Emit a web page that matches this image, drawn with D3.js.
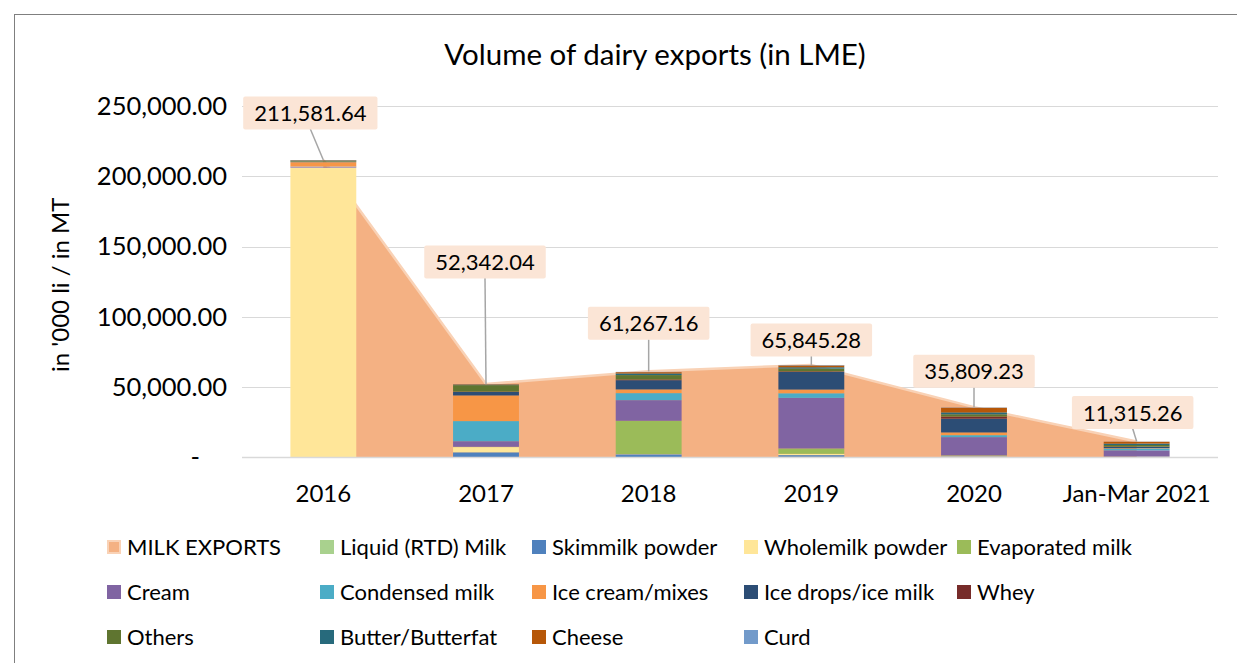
<!DOCTYPE html>
<html>
<head>
<meta charset="utf-8">
<script src="https://cdn.jsdelivr.net/npm/d3@7"></script>
<style>
  html, body { margin: 0; padding: 0; background: #fff; }
  svg { display: block; font-family: Lato, "Open Sans", sans-serif; }
</style>
</head>
<body>
<svg id="chart" width="1237" height="663"></svg>
<script>
// ---- data ----
const categories = ["2016", "2017", "2018", "2019", "2020", "Jan-Mar 2021"];
const milkExports = [211581.64, 52342.04, 61267.16, 65845.28, 35809.23, 11315.26];

const liquidMilk      = [0,      300,   200,   500,   300,   100];
const skimmilkPowder  = [300,    3400,  2100,  1200,  500,   200];
const wholemilkPowder = [205900, 3700,  200,   900,   300,   100];
const evaporatedMilk  = [0,      200,   23600, 3800,  400,   200];
const cream           = [600,    4000,  14700, 36000, 13000, 4500];
const condensedMilk   = [150,    14300, 5000,  3300,  1400,  1200];
const iceCream        = [3100,   18200, 2600,  2600,  1900,  300];
const iceDrops        = [300,    2500,  6600,  12600, 9900,  900];
const whey            = [80,     250,   500,   400,   1400,  200];
const others          = [500,    4600,  3100,  1900,  1600,  1200];
const butter          = [350,    400,   1200,  1000,  1400,  1000];
const cheese          = [250,    300,   900,   1300,  3300,  1300];
const curd            = [50,     100,   200,   300,   200,   100];

const yTicks = [0, 50000, 100000, 150000, 200000, 250000];
const yTickLabels = ["-", "50,000.00", "100,000.00", "150,000.00", "200,000.00", "250,000.00"];

// product series, bottom of the stack first
const series = [
  { key: "Liquid (RTD) Milk",  values: liquidMilk,      color: "#A9D18E" },
  { key: "Skimmilk powder",    values: skimmilkPowder,  color: "#4F81BD" },
  { key: "Wholemilk powder",   values: wholemilkPowder, color: "#FFE699" },
  { key: "Evaporated milk",    values: evaporatedMilk,  color: "#9BBB59" },
  { key: "Cream",              values: cream,           color: "#8064A2" },
  { key: "Condensed milk",     values: condensedMilk,   color: "#4BACC6" },
  { key: "Ice cream/mixes",    values: iceCream,        color: "#F79646" },
  { key: "Ice drops/ice milk", values: iceDrops,        color: "#2C4D75" },
  { key: "Whey",               values: whey,            color: "#772C2A" },
  { key: "Others",             values: others,          color: "#5F7530" },
  { key: "Butter/Butterfat",   values: butter,          color: "#276A7C" },
  { key: "Cheese",             values: cheese,          color: "#B65708" },
  { key: "Curd",               values: curd,            color: "#729ACA" }
];
const areaFill = "#F4B183";
const areaEdge = "#F9D2B6";

// ---- layout ----
const plot = { left: 242, right: 1218, top: 106, bottom: 457.5 };
const labelShift = [-13, -1, 0, 0, 0, -4];     // horizontal nudge of value callouts
const labelRise  = [47, 122, 48, 25, 36, 29];  // callout centre height above the point
const legendCols = [107, 320, 532, 744, 957];
const legendRows = [547, 592, 637];

const svg = d3.select("#chart");

svg.append("rect")
  .attr("x", 14.5).attr("y", 14.5)
  .attr("width", 1240).attr("height", 660)
  .attr("fill", "#fff").attr("stroke", "#7F7F7F").attr("stroke-width", 1);

const x = d3.scaleBand().domain(categories).range([plot.left, plot.right]).paddingInner(0.595).paddingOuter(0.2975);
const xc = c => x(c) + x.bandwidth() / 2;
const y = d3.scaleLinear().domain([0, 250000]).range([plot.bottom, plot.top]);

// title
svg.append("text")
  .attr("x", 655).attr("y", 65)
  .attr("text-anchor", "middle")
  .attr("font-size", 29.5)
  .attr("fill", "#000")
  .text("Volume of dairy exports (in LME)");

// gridlines
const grid = svg.append("g");
grid.selectAll("line").data(yTicks.filter(v => v > 0)).join("line")
  .attr("x1", plot.left).attr("x2", plot.right)
  .attr("y1", d => Math.round(y(d)) + 0.5).attr("y2", d => Math.round(y(d)) + 0.5)
  .attr("stroke", "#D9D9D9").attr("stroke-width", 1);

// y axis labels
const yAxis = d3.axisLeft(y).tickValues(yTicks)
  .tickFormat((d, i) => yTickLabels[i]).tickSize(0).tickPadding(0);
const yg = svg.append("g").attr("transform", `translate(227,0)`).call(yAxis);
yg.select(".domain").remove();
yg.selectAll("text").attr("font-size", 25.5).attr("fill", "#000").attr("font-family", "Lato");
yg.selectAll(".tick").filter(d => d === 0).select("text").attr("x", -27);

// y axis title
svg.append("text")
  .attr("transform", `translate(69,${(plot.top + plot.bottom) / 2 + 3}) rotate(-90)`)
  .attr("text-anchor", "middle")
  .attr("font-size", 24)
  .attr("fill", "#000")
  .text("in '000 li / in MT");

// milk exports area behind the bars
const areaData = categories.map((c, i) => ({ c, v: milkExports[i] }));
svg.append("path")
  .datum(areaData)
  .attr("d", d3.area().x(d => xc(d.c)).y0(y(0)).y1(d => y(d.v)))
  .attr("fill", areaFill);
svg.append("path")
  .datum(areaData)
  .attr("d", d3.line().x(d => xc(d.c)).y(d => y(d.v)))
  .attr("fill", "none").attr("stroke", areaEdge).attr("stroke-width", 2.5);

// stacked bars
const rows = categories.map((c, i) => {
  const r = { cat: c };
  series.forEach(s => { r[s.key] = s.values[i]; });
  return r;
});
const stacked = d3.stack().keys(series.map(s => s.key))(rows);
const colorOf = d3.scaleOrdinal().domain(series.map(s => s.key)).range(series.map(s => s.color));

svg.append("g").selectAll("g").data(stacked).join("g")
  .attr("fill", d => colorOf(d.key))
  .selectAll("rect").data(d => d).join("rect")
  .attr("x", d => x(d.data.cat))
  .attr("width", x.bandwidth())
  .attr("y", d => y(d[1]))
  .attr("height", d => Math.max(0, y(d[0]) - y(d[1])));

// x axis line and labels
svg.append("line")
  .attr("x1", plot.left).attr("x2", plot.right)
  .attr("y1", plot.bottom).attr("y2", plot.bottom)
  .attr("stroke", "#D9D9D9").attr("stroke-width", 1.5);
const xAxis = d3.axisBottom(x).tickSize(0).tickPadding(0);
const xg = svg.append("g").attr("transform", `translate(0,${plot.bottom})`).call(xAxis);
xg.select(".domain").remove();
xg.selectAll("text").attr("font-size", 24).attr("fill", "#000").attr("font-family", "Lato")
  .attr("dy", null).attr("y", 44);

// value callouts for the milk exports total
const fmt = d3.format(",.2f");
const callouts = svg.append("g");
areaData.forEach((d, i) => {
  const px = xc(d.c), py = y(d.v);
  const cx = px + labelShift[i], cy = py - labelRise[i];
  const g = callouts.append("g");
  g.append("line")
    .attr("x1", cx).attr("y1", cy + 16)
    .attr("x2", px).attr("y2", py)
    .attr("stroke", "#A6A6A6").attr("stroke-width", 1.5);
  const box = g.append("rect").attr("fill", "#FBE5D6");
  const t = g.append("text")
    .attr("x", cx).attr("y", cy)
    .attr("dy", "0.36em")
    .attr("text-anchor", "middle")
    .attr("font-size", 22)
    .attr("fill", "#000")
    .text(fmt(d.v));
  const w = t.node().getComputedTextLength() + 22;
  box.attr("x", cx - w / 2).attr("y", cy - 16.5).attr("width", w).attr("height", 33).attr("rx", 2);
});

// legend
const legendItems = [{ key: "MILK EXPORTS", color: areaFill, area: true }].concat(series);
const lg = svg.append("g");
legendItems.forEach((item, i) => {
  const col = i % 5, row = Math.floor(i / 5);
  const lx = legendCols[col], ly = legendRows[row];
  const g = lg.append("g");
  if (item.area) {
    g.append("rect").attr("x", lx + 1).attr("y", ly - 6).attr("width", 12).attr("height", 12)
      .attr("fill", item.color).attr("stroke", areaEdge).attr("stroke-width", 2);
  } else {
    g.append("rect").attr("x", lx).attr("y", ly - 7).attr("width", 14).attr("height", 14)
      .attr("fill", item.color);
  }
  g.append("text")
    .attr("x", lx + 20).attr("y", ly)
    .attr("dy", "0.36em")
    .attr("font-size", 22)
    .attr("fill", "#000")
    .text(item.key);
});
</script>
</body>
</html>
